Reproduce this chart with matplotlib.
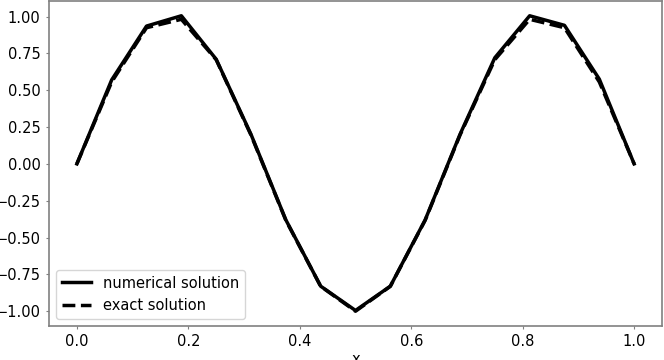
import numpy as np
import matplotlib.pyplot as plt

# grid points and solutions
x = [0.0, 0.0625, 0.125, 0.1875, 0.25, 0.3125, 0.375, 0.4375, 0.5,
     0.5625, 0.625, 0.6875, 0.75, 0.8125, 0.875, 0.9375, 1.0]
u_num = [0.0, 0.57, 0.935, 1.005, 0.71, 0.20, -0.38, -0.83, -0.995,
         -0.83, -0.38, 0.20, 0.72, 1.005, 0.94, 0.575, 0.0]
u_exact = [0.0, 0.556, 0.924, 0.981, 0.707, 0.195, -0.383, -0.831, -1.0,
           -0.831, -0.383, 0.195, 0.707, 0.981, 0.924, 0.556, 0.0]

plt.rcParams['font.size'] = 10.5

fig = plt.figure(figsize=(6.64, 3.6), dpi=100)
ax = fig.add_axes([49 / 664, 34 / 360, 613 / 664, 325 / 360])

ax.plot(x, u_num, color='black', lw=2.5, label='numerical solution')
ax.plot(x, u_exact, color='black', lw=2.5, ls='--', label='exact solution')

ax.set_xlabel('x', labelpad=2)
ax.set_yticks([-1.0, -0.75, -0.5, -0.25, 0.0, 0.25, 0.5, 0.75, 1.0])
for s in ax.spines.values():
    s.set_color('#808080')
    s.set_linewidth(1.2)
ax.tick_params(color='#808080', length=2.5)
ax.legend(loc='lower left')

fig.savefig('out.png', dpi=100)
